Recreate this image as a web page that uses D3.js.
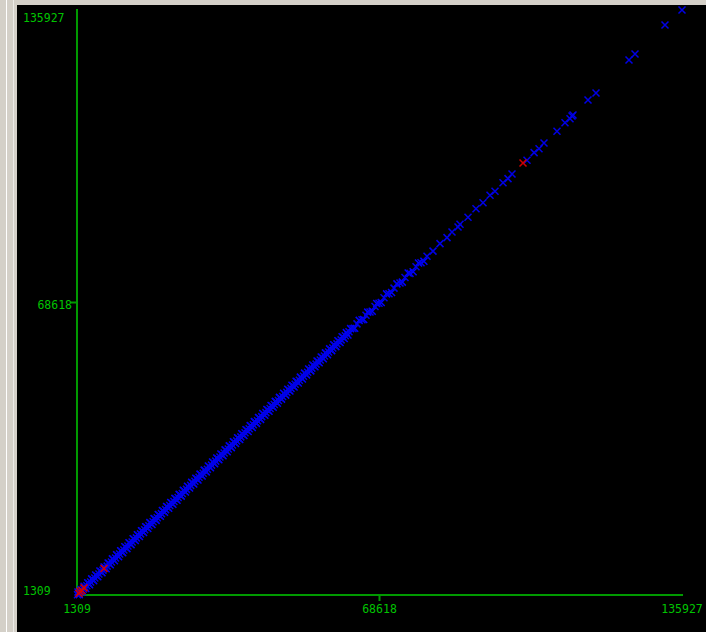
<!DOCTYPE html>
<html>
<head>
<meta charset="utf-8">
<script src="https://cdn.jsdelivr.net/npm/d3@7"></script>
<style>
  body { margin: 0; background: #d4d0c8; }
  svg { display: block; }
</style>
</head>
<body>
<svg id="chart" width="706" height="632"></svg>
<script>
// axis range and tick labels
const domainMin = 1309, domainMax = 135927;
const tickVals = [1309, 68618, 135927];

// blue series (most points)
const blueX = [1420,1650,1990,2300,2710,3040,3490,3890,4340,4800,5270,5690,6190,6640,7100,7550,8020,8460,8960,9390,
  9890,10320,10800,11250,11730,12190,12650,13100,13580,14020,14520,14950,15440,15890,16370,16810,17300,17740,18230,18670,
  19160,19600,20090,20530,21020,21460,21950,22390,22880,23320,23810,24250,24740,25180,25670,26110,26600,27040,27530,27970,
  28460,28900,29390,29830,30320,30760,31250,31690,32180,32620,33110,33550,34040,34480,34970,35410,35900,36340,36830,37270,
  37760,38200,38690,39130,39620,40060,40550,40990,41480,41920,42410,42850,43340,43780,44270,44710,45200,45640,46130,46570,
  47060,47500,47990,48430,48920,49360,49850,50290,50780,51220,51710,52150,52640,53080,53570,54010,54500,54940,55430,55870,
  56360,56800,57290,57730,58220,58660,59150,59590,60080,60520,61010,
  61830,62720,63610,64720,65610,66500,67620,68510,69620,70730,71850,73180,74290,75400,76740,77850,79190,80520,82080,83640,
  84750,86090,86530,88310,90090,91650,93210,94320,96100,97210,98100,101440,103020,104110,105220,108110,109890,111010,111450,111670,
  115010,116790,124130,125470,132140,135927];
const blueY = [1380,1720,1940,2380,2650,3120,3420,3960,4280,4870,5210,5760,6130,6710,7040,7620,7960,8530,8900,9460,
  9830,10390,10740,11320,11670,12260,12590,13170,13520,14090,14460,15020,15380,15960,16310,16880,17240,17810,18170,18740,
  19100,19670,20030,20600,20960,21530,21890,22460,22820,23390,23750,24320,24680,25250,25610,26180,26540,27110,27470,28040,
  28400,28970,29330,29900,30260,30830,31190,31760,32120,32690,33050,33620,33980,34550,34910,35480,35840,36410,36770,37340,
  37700,38270,38630,39200,39560,40130,40490,41060,41420,41990,42350,42920,43280,43850,44210,44780,45140,45710,46070,46640,
  47000,47570,47930,48500,48860,49430,49790,50360,50720,51290,51650,52220,52580,53150,53510,54080,54440,55010,55370,55940,
  56300,56870,57230,57800,58160,58730,59090,59660,60020,60590,60950,
  61900,62650,63700,64650,65700,66420,67700,68430,69700,70650,71930,73100,74380,75320,76830,77770,79280,80440,82170,83550,
  84840,86000,86620,88220,90180,91560,93300,94230,96190,97120,98190,101350,103110,104020,105310,108020,109980,110920,111540,111760,
  115220,116830,124420,125800,132480,135927];

// more blue points in the dense part, a little off the diagonal
const blueX2 = [1530,1820,2150,2510,2880,3260,3690,4110,4570,5030,5480,5940,6410,6870,7330,7790,8240,8710,9180,9640,
  10110,10560,11030,11490,11960,12420,12880,13340,13800,14270,14740,15200,15660,16130,16590,17060,17520,17990,18450,18920,
  19380,19850,20310,20780,21240,21710,22170,22640,23100,23570,24030,24500,24960,25430,25890,26360,26820,27290,27750,28220,
  28680,29150,29610,30080,30540,31010,31470,31940,32400,32870,33330,33800,34260,34730,35190,35660,36120,36590,37050,37520,
  37980,38450,38910,39380,39840,40310,40770,41240,41700,42170,42630,43100,43560,44030,44490,44960,45420,45890,46350,46820,
  47280,47750,48210,48680,49140,49610,50070,50540,51000,51470,51930,52400,52860,53330,53790,54260,54720,55190,55650,56120,
  56580,57050,57510,57980,58440,58910,59370,59840,60300,60770,61240,61600,62200,63100,64100,65100,66000,67000,68000,69000,
  70200,71300,72500,73700,75000,76100,77300,78500];
const blueY2 = [1990,1390,2560,2060,3330,2810,4120,3680,5020,4590,5910,5500,6850,6430,7770,7350,8680,8270,9620,9200,
  10550,10120,11470,11050,12400,11980,13320,12900,14240,13830,15180,14760,16100,15690,17030,16620,17960,17550,18890,18480,
  19820,19410,20750,20340,21680,21270,22610,22200,23540,23130,24470,24060,25400,24990,26330,25920,27260,26850,28190,27780,
  29120,28710,30050,29640,30980,30570,31910,31500,32840,32430,33770,33360,34700,34290,35630,35220,36560,36150,37490,37080,
  38420,38010,39350,38940,40280,39870,41210,40800,42140,41730,43070,42660,44000,43590,44930,44520,45860,45450,46790,46380,
  47720,47310,48650,48240,49580,49170,50510,50100,51440,51030,52370,51960,53300,52890,54230,53820,55160,54750,56090,55680,
  57020,56610,57950,57540,58880,58470,59810,59400,60740,60330,61680,61160,62600,62700,64500,64700,66400,66600,68400,68600,
  70600,70900,72900,73300,75400,75700,77700,78100];

// red series (few points)
const redX = [1750, 1980, 2420, 2870, 7320, 100550];
const redY = [1640, 2100, 2350, 2950, 7420, 100700];

const svg = d3.select("#chart");

// window frame on the left and top
svg.append("rect").attr("x", 6).attr("y", 0).attr("width", 1).attr("height", 632).attr("fill", "#ffffff");
svg.append("rect").attr("x", 13).attr("y", 0).attr("width", 1).attr("height", 632).attr("fill", "#ecebe7");
svg.append("rect").attr("x", 17).attr("y", 5).attr("width", 689).attr("height", 627).attr("fill", "#000000");

const x = d3.scaleLinear().domain([domainMin, domainMax]).range([77, 682]);
const y = d3.scaleLinear().domain([domainMin, domainMax]).range([595, 10]);

const axisColor = "#009a00", textColor = "#00c400";

// axis lines
svg.append("line").attr("x1", x(domainMin)).attr("x2", x(domainMin))
  .attr("y1", y(domainMax) - 1).attr("y2", y(domainMin) + 1)
  .attr("stroke", axisColor).attr("stroke-width", 2);
svg.append("line").attr("x1", x(domainMin)).attr("x2", x(domainMax) + 1)
  .attr("y1", y(domainMin)).attr("y2", y(domainMin))
  .attr("stroke", axisColor).attr("stroke-width", 2);

// middle ticks
svg.append("line").attr("x1", x(domainMin) - 6).attr("x2", x(domainMin))
  .attr("y1", y(tickVals[1])).attr("y2", y(tickVals[1]))
  .attr("stroke", axisColor).attr("stroke-width", 2);
svg.append("line").attr("x1", x(tickVals[1])).attr("x2", x(tickVals[1]))
  .attr("y1", y(domainMin)).attr("y2", y(domainMin) + 6)
  .attr("stroke", axisColor).attr("stroke-width", 2);

const font = "'DejaVu Sans Mono', monospace";

// x labels, centred on ticks
svg.selectAll(".xl").data(tickVals).enter().append("text")
  .attr("x", d => x(d)).attr("y", 613)
  .attr("text-anchor", "middle")
  .attr("font-family", font).attr("font-size", "11.5px")
  .attr("fill", textColor)
  .text(d => d);

// y labels: ends left aligned, middle one against the tick
svg.selectAll(".yl").data(tickVals).enter().append("text")
  .attr("x", (d, i) => i == 1 ? 72 : 23)
  .attr("y", (d, i) => y(d) + (i == 0 ? 0 : i == 1 ? 6.5 : 12))
  .attr("text-anchor", (d, i) => i == 1 ? "end" : "start")
  .attr("font-family", font).attr("font-size", "11.5px")
  .attr("fill", textColor)
  .text(d => d);

// cross markers
function crosses(xs, ys, color) {
  const s = 3.5;
  const g = svg.append("g").attr("stroke", color).attr("stroke-width", 1.5);
  const pts = xs.map((v, i) => [v, ys[i]]);
  g.selectAll("path").data(pts).enter().append("path")
    .attr("d", d => {
      const px = x(d[0]), py = y(d[1]);
      return "M" + (px - s) + "," + (py - s) + "L" + (px + s) + "," + (py + s) +
             "M" + (px - s) + "," + (py + s) + "L" + (px + s) + "," + (py - s);
    })
    .attr("fill", "none");
}
crosses(blueX2, blueY2, "#0000ff");
crosses(blueX, blueY, "#0000e6");
crosses(redX, redY, "#d00000");
</script>
</body>
</html>
